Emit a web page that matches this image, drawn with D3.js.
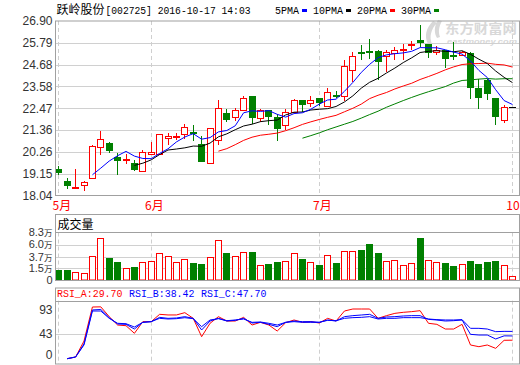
<!DOCTYPE html>
<html><head><meta charset="utf-8">
<script src="https://cdn.jsdelivr.net/npm/d3@7"></script>
<style>html,body{margin:0;padding:0;background:#fff;overflow:hidden}svg{display:block}</style>
</head><body><svg id="c" width="520" height="365"></svg>
<script>
// ---------------- data ----------------
const stockTitle = "跃岭股份";
const stockInfo = "[002725] 2016-10-17 14:03";
const opens  = [19.41,18.80,18.47,18.55,18.94,20.48,20.73,20.00,19.85,19.70,19.29,20.16,20.16,20.95,21.04,21.14,21.24,20.67,19.68,20.84,22.24,22.02,22.39,23.07,21.99,22.36,22.02,21.61,22.27,22.90,22.75,22.97,22.56,23.12,23.07,24.43,25.31,25.39,25.36,25.10,25.27,25.41,25.66,25.95,25.75,25.32,25.41,25.17,25.19,25.27,23.48,23.88,22.99,21.85,22.53];
const highs  = [19.56,18.92,19.41,18.80,20.58,21.34,20.78,20.21,20.16,19.84,20.36,20.75,21.17,21.21,21.21,21.66,21.60,21.04,21.48,22.87,22.41,22.48,23.07,23.07,22.44,22.39,22.16,22.44,22.95,22.90,23.07,23.00,23.48,23.36,24.93,25.34,25.66,26.00,25.44,25.41,25.58,25.75,25.88,26.68,25.75,25.61,25.41,25.83,25.36,25.32,23.97,23.97,22.99,22.61,22.53];
const lows   = [19.06,18.38,18.45,18.28,18.94,20.11,20.19,19.09,19.62,19.28,19.29,20.16,20.16,20.58,20.84,20.92,20.80,19.73,19.65,20.60,21.77,21.80,22.39,21.68,21.77,21.60,20.80,21.38,22.27,22.27,22.53,22.56,22.53,23.00,22.83,23.80,24.90,24.98,23.92,24.31,24.90,24.93,25.41,25.58,25.02,25.15,24.53,24.90,25.15,22.95,22.44,22.87,21.60,21.73,22.53];
const closes = [19.16,18.51,18.48,18.75,20.53,20.89,20.31,19.80,19.89,19.33,20.26,20.26,21.14,21.07,21.07,21.50,21.14,19.73,21.48,22.50,21.85,22.36,23.00,21.97,22.39,22.02,21.41,22.29,22.87,22.63,22.90,22.73,23.31,23.09,24.63,25.14,25.27,25.36,24.82,25.31,25.44,25.48,25.75,25.78,25.27,25.41,24.98,25.14,25.32,23.51,22.99,23.21,22.02,22.55,22.53];

const ma5  = [null,null,null,null,19.09,19.43,19.79,20.06,20.28,20.04,19.92,19.91,20.18,20.41,20.76,21.01,21.18,20.90,20.98,21.27,21.34,21.58,22.24,22.34,22.31,22.35,22.16,22.02,22.20,22.24,22.42,22.68,22.89,22.93,23.33,23.78,24.29,24.70,25.04,25.18,25.24,25.28,25.36,25.55,25.54,25.54,25.44,25.32,25.22,24.87,24.39,24.03,23.41,22.86,22.66];
const ma10 = [null,null,null,null,null,null,null,null,null,19.57,19.68,19.85,20.12,20.35,20.40,20.46,20.55,20.54,20.70,21.02,21.17,21.38,21.57,21.66,21.79,21.84,21.87,22.13,22.27,22.28,22.38,22.42,22.45,22.56,22.79,23.10,23.49,23.79,23.99,24.26,24.51,24.79,25.03,25.30,25.36,25.39,25.36,25.34,25.39,25.21,24.96,24.74,24.36,24.04,23.77];
const ma20 = [null,null,null,null,null,null,null,null,null,null,null,null,null,null,null,null,null,null,null,20.29,20.42,20.62,20.84,21.00,21.10,21.15,21.21,21.33,21.48,21.65,21.78,21.90,22.01,22.11,22.29,22.47,22.68,22.96,23.13,23.27,23.45,23.60,23.74,23.93,24.08,24.24,24.42,24.57,24.69,24.73,24.74,24.76,24.70,24.67,24.56];
const ma30 = [null,null,null,null,null,null,null,null,null,null,null,null,null,null,null,null,null,null,null,null,null,null,null,null,null,null,null,null,null,20.95,21.08,21.22,21.38,21.52,21.66,21.80,21.97,22.15,22.32,22.52,22.69,22.86,23.02,23.17,23.31,23.44,23.57,23.75,23.88,23.91,23.95,23.98,23.95,23.97,23.97];

const volumes = [1.13,1.13,0.88,0.69,3.93,7.35,3.55,2.65,1.64,1.83,2.78,2.97,4.50,3.93,2.78,3.36,2.46,2.27,3.74,6.97,4.36,3.93,4.69,4.55,2.21,2.27,2.78,2.97,4.50,3.22,2.78,2.08,4.12,2.46,4.88,4.88,4.93,6.07,4.36,2.97,3.17,2.21,2.59,7.21,3.17,2.78,2.46,1.89,2.40,2.97,2.27,2.65,2.97,2.21,0.12];
const volumeUp = [0,0,1,1,1,1,0,0,1,0,1,1,1,1,1,1,0,0,1,1,0,1,1,0,1,0,0,1,1,0,1,0,1,0,1,1,0,0,0,1,1,1,1,0,1,1,0,0,1,0,0,0,0,1,1];

const rsiA = [null,-8.2,-4.7,28,97.7,98,77.9,60.8,59.4,43.8,67.7,67.7,82.7,81.4,81.4,86.1,74.5,36.9,64.3,77.9,69.0,69.0,76.5,60.8,66.3,60.8,48.5,65.6,71.1,66.3,67.7,64.9,74.5,69.0,89.5,93.6,93.6,93.6,74.5,80.0,84.7,86.8,88.2,90.2,64.3,62.2,52.6,52.6,62.2,19.9,16.4,19.9,13.0,29.5,29.70];
const rsiB = [null,-8.2,-4.7,22,91.6,92.6,75.8,62.9,62.2,52.6,66.3,67.7,76.5,74.5,75.2,77.9,74.5,50.6,69.0,74.5,69.0,70.4,74.5,64.9,66.3,62.2,57.4,66.3,69.0,67.7,67.7,66.3,71.1,69.0,77.9,80.0,81.3,82.7,74.5,77.2,77.9,79.3,80.0,80.0,72.4,71.1,69.0,69.7,71.1,41.7,40.3,40.3,32.2,38.6,38.42];
const rsiC = [null,-8.2,-4.7,20,89.5,89.5,74.5,64.3,63.5,56.7,66.3,67.7,74.5,73.1,73.8,75.8,73.8,57.4,71.1,73.8,69.7,71.1,73.1,66.3,67.0,64.3,60.8,66.3,67.7,66.3,66.3,66.3,70.4,69.7,74.5,75.9,76.5,77.9,73.1,74.5,74.5,75.9,75.9,75.9,73.1,71.8,71.1,71.1,71.8,54.0,54.0,52.6,47.2,47.8,47.70];

const priceTicks = [18.04,19.15,20.26,21.36,22.47,23.58,24.68,25.79,26.90];
const volTicks = [1.5,3.7,6.0,8.3];
const volBase = -0.77;
const rsiTicks = [0,43,93];
const monthLabels = ["5月","6月","7月","10"];
const monthStart = [0,11,31,54];
const maNames = ["5PMA","10PMA","20PMA","30PMA"];
const maColors = ["#0000ff","#000000","#ff0000","#008000"];
const rsiNames = ["RSI_A","RSI_B","RSI_C"];
const rsiColors = ["#ff0000","#0000ff","#0000ff"];

// ---------------- layout ----------------
const svg = d3.select("#c");
const L = 55.5, R = 519.5;
const pTop = 21, pBot = 195.5;
const vTitleTop = 214.5, vTop = 232.5, vBot = 280.5;
const rTitleTop = 288, rTop = 300.7, rBot = 364;
const frameC = "#a0a0a0", gridC = "#d0d0d0";
const UP = "#ff0000", DN = "#008000";
const cjk = "'Noto Sans CJK SC', sans-serif";
const mono = "'Liberation Mono', monospace";
const sans = "'Liberation Sans', Arial, 'Noto Sans CJK SC', sans-serif";

const n = closes.length;
const x = d3.scalePoint().domain(d3.range(n)).range([58.3, 512]);
const yP = d3.scaleLinear().domain([priceTicks[0], priceTicks[priceTicks.length-1]]).range([pBot, pTop]);
const yV = d3.scaleLinear().domain([volBase, volTicks[volTicks.length-1]]).range([vBot, vTop]);
const yR = d3.scaleLinear().domain([0, 93]).range([354.7, 309.3]);
const px = v => Math.round(v) + 0.5;

// ---------------- watermark ----------------
const wm = svg.append("g").attr("fill", "#d8d8d8");
wm.append("path").attr("d", "M433,21 C426,28 424,36 428,44 L432,44 C429,37 431,29 437,23 Z M438,20 C434,26 434,33 437,38 L440,37 C438,32 439,26 442,21 Z");
const wmt = wm.append("text");
wmt.append("tspan").attr("x", 445).attr("y", 33).attr("font-family", cjk).attr("font-weight", "bold").attr("font-size", 13)
  .attr("textLength", 72).attr("lengthAdjust", "spacingAndGlyphs").text("东方财富网");
wmt.append("tspan").attr("x", 447).attr("y", 44).attr("font-family", "'Liberation Sans', sans-serif").attr("font-style", "italic")
  .attr("font-weight", "bold").attr("font-size", 8).attr("textLength", 70).attr("lengthAdjust", "spacingAndGlyphs").text("eastmoney.com");

// ---------------- header ----------------
svg.append("text").attr("x", 56.5).attr("y", 14).attr("font-family", cjk).attr("font-size", 12).attr("fill", "#000").text(stockTitle);
svg.append("text").attr("x", 105.5).attr("y", 14).attr("font-family", mono).attr("font-size", 11).attr("fill", "#000")
  .attr("textLength", 145).attr("lengthAdjust", "spacingAndGlyphs").text(stockInfo);

let lx = 275;
maNames.forEach((name, k) => {
  const w = name.length * 6;
  svg.append("text").attr("x", lx).attr("y", 14).attr("font-family", mono).attr("font-size", 11).attr("fill", "#000")
    .attr("textLength", w).attr("lengthAdjust", "spacingAndGlyphs").text(name);
  svg.append("rect").attr("x", lx + w + 3).attr("y", 9).attr("width", 5).attr("height", 3).attr("fill", maColors[k]);
  lx += w + 3 + 5 + 6;
});

// ---------------- price pane ----------------
const gP = svg.append("g");
priceTicks.slice(1, -1).forEach(t => {
  gP.append("line").attr("x1", L).attr("x2", R).attr("y1", px(yP(t))).attr("y2", px(yP(t))).attr("stroke", gridC);
});
monthStart.forEach(i => {
  const xx = px(x(i));
  [[pTop, pBot], [vTop, vBot], [rTop, rBot]].forEach(([a, b]) => {
    svg.append("line").attr("x1", xx).attr("x2", xx).attr("y1", a).attr("y2", b)
      .attr("stroke", "#cfcfcf").attr("stroke-dasharray", "4,3");
  });
});
priceTicks.forEach(t => {
  svg.append("text").attr("x", 52.5).attr("y", yP(t)).attr("dy", "0.36em").attr("text-anchor", "end")
    .attr("font-family", sans).attr("font-size", 12).attr("fill", "#333").text(t.toFixed(2));
});

// candles
const gC = svg.append("g");
d3.range(n).forEach(i => {
  const o = opens[i], c = closes[i], h = highs[i], l = lows[i];
  const cx = Math.round(x(i));
  const top = Math.round(yP(Math.max(o, c))), bot = Math.round(yP(Math.min(o, c)));
  const yh = Math.round(yP(h)), yl = Math.round(yP(l));
  if (o === c && h === l) {
    gC.append("line").attr("x1", cx - 3).attr("x2", cx + 4).attr("y1", top + 0.5).attr("y2", top + 0.5).attr("stroke", "#000");
    return;
  }
  const up = c >= o;
  const col = up ? UP : DN;
  if (yh < top) gC.append("line").attr("x1", cx + 0.5).attr("x2", cx + 0.5).attr("y1", yh).attr("y2", top).attr("stroke", col);
  if (yl > bot) gC.append("line").attr("x1", cx + 0.5).attr("x2", cx + 0.5).attr("y1", bot).attr("y2", yl).attr("stroke", col);
  if (up) {
    gC.append("rect").attr("x", cx - 2.5).attr("y", top + 0.5).attr("width", 6).attr("height", Math.max(bot - top, 1))
      .attr("fill", "#fff").attr("stroke", UP);
  } else {
    gC.append("rect").attr("x", cx - 3).attr("y", top).attr("width", 7).attr("height", Math.max(bot - top, 2)).attr("fill", DN);
  }
});

// moving averages
[ma30, ma20, ma10, ma5].forEach((arr, k) => {
  const col = maColors[3 - k];
  const line = d3.line().defined(d => d != null).x((d, i) => x(i) + 0.5).y(d => yP(d));
  svg.append("path").datum(arr).attr("d", line).attr("fill", "none").attr("stroke", col).attr("stroke-width", 1);
});

svg.append("rect").attr("x", L).attr("y", pTop).attr("width", R - L).attr("height", pBot - pTop)
  .attr("fill", "none").attr("stroke", frameC);

// month labels
monthLabels.forEach((m, k) => {
  svg.append("text").attr("x", x(monthStart[k]) - 5.7).attr("y", 209.5).attr("font-family", cjk).attr("font-size", 12)
    .attr("fill", "#ff0000").text(m);
});

// ---------------- volume pane ----------------
volTicks.slice(0, -1).forEach(t => {
  svg.append("line").attr("x1", L).attr("x2", R).attr("y1", px(yV(t))).attr("y2", px(yV(t))).attr("stroke", gridC);
});
const gV = svg.append("g");
volumes.forEach((v, i) => {
  const cx = Math.round(x(i));
  const top = Math.round(yV(v));
  const b = Math.floor(vBot);
  if (volumeUp[i]) {
    gV.append("rect").attr("x", cx - 2.5).attr("y", top + 0.5).attr("width", 6).attr("height", Math.max(b - top - 0.5, 1))
      .attr("fill", "#fff").attr("stroke", UP);
  } else {
    gV.append("rect").attr("x", cx - 3).attr("y", top).attr("width", 7).attr("height", b - top).attr("fill", DN);
  }
});
svg.append("rect").attr("x", L).attr("y", vTitleTop).attr("width", R - L).attr("height", vBot - vTitleTop)
  .attr("fill", "none").attr("stroke", frameC);
svg.append("line").attr("x1", L).attr("x2", R).attr("y1", vTop).attr("y2", vTop).attr("stroke", frameC);
svg.append("text").attr("x", 57.5).attr("y", 228.5).attr("font-family", cjk).attr("font-size", 12).attr("fill", "#000").text("成交量");
volTicks.forEach(t => {
  const tx = svg.append("text").attr("x", 52.5).attr("y", yV(t)).attr("dy", "0.34em").attr("text-anchor", "end")
    .attr("font-family", "'Liberation Sans', Arial, sans-serif").attr("font-size", 11).attr("fill", "#333");
  tx.append("tspan").text(t.toFixed(1));
  tx.append("tspan").attr("font-family", cjk).attr("font-size", 8.5).text("万");
});
svg.append("text").attr("x", 52.5).attr("y", yV(volBase)).attr("dy", "0.34em").attr("text-anchor", "end")
  .attr("font-family", sans).attr("font-size", 11).attr("fill", "#333").text("0");

// ---------------- RSI pane ----------------
svg.append("line").attr("x1", L).attr("x2", R).attr("y1", px(yR(43))).attr("y2", px(yR(43))).attr("stroke", gridC);
const rline = d3.line().defined(d => d != null).x((d, i) => x(i) + 0.5).y(d => yR(d));
[rsiA, rsiB, rsiC].forEach((arr, k) => {
  svg.append("path").datum(arr).attr("d", rline).attr("fill", "none").attr("stroke", rsiColors[k]).attr("stroke-width", 1);
});
svg.append("rect").attr("x", L).attr("y", rTitleTop).attr("width", R - L).attr("height", rBot - rTitleTop)
  .attr("fill", "none").attr("stroke", frameC);
svg.append("line").attr("x1", L).attr("x2", R).attr("y1", px(rTop)).attr("y2", px(rTop)).attr("stroke", frameC);
[rsiA, rsiB, rsiC].forEach((arr, k) => {
  const s = rsiNames[k] + ":" + arr[arr.length - 1].toFixed(2);
  svg.append("text").attr("x", 57 + k * 72).attr("y", 297).attr("font-family", mono).attr("font-size", 11)
    .attr("fill", rsiColors[k]).attr("textLength", s.length * 5.95).attr("lengthAdjust", "spacingAndGlyphs").text(s);
});
rsiTicks.forEach(t => {
  svg.append("text").attr("x", 52.5).attr("y", yR(t)).attr("dy", "0.36em").attr("text-anchor", "end")
    .attr("font-family", sans).attr("font-size", 12).attr("fill", "#333").text(t);
});
</script>
</body></html>
